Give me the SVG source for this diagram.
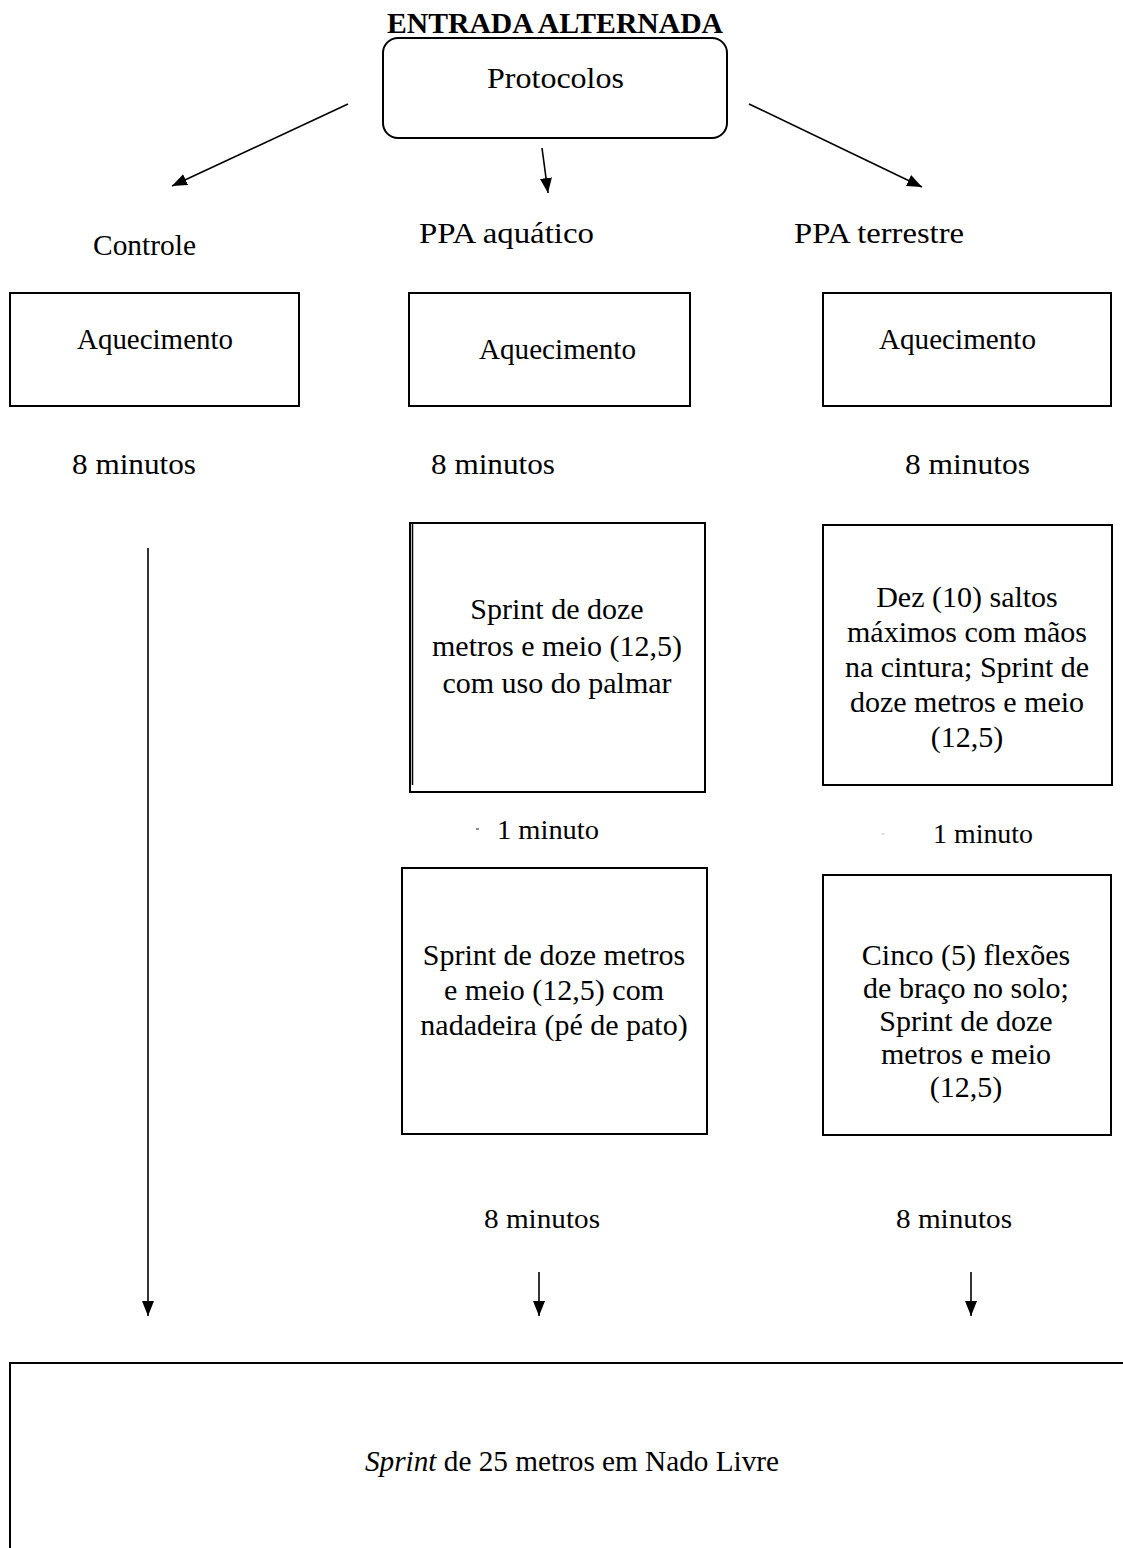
<svg xmlns="http://www.w3.org/2000/svg" width="1123" height="1548" viewBox="0 0 1123 1548">
<style>
text{font-family:"Liberation Serif","Times New Roman",serif;font-size:30px;fill:#000}
.t{font-weight:bold}
.box{fill:#fff;stroke:#000;stroke-width:2}
.ln{stroke:#000;stroke-width:1.6;fill:none}
.c{text-anchor:middle}
.s{font-size:28px}
</style>
<defs>
<marker id="ah" viewBox="0 0 15 12" refX="15" refY="6" markerWidth="15" markerHeight="12" markerUnits="userSpaceOnUse" orient="auto">
<path d="M0,0 L15,6 L0,12 z" fill="#000"/>
</marker>
</defs>
<rect width="1123" height="1548" fill="#fff"/>
<text class="t" x="387" y="33" textLength="336" lengthAdjust="spacingAndGlyphs">ENTRADA ALTERNADA</text>
<g id="protocolos">
<rect class="box" x="383" y="38" width="344" height="100" rx="15"/>
<text x="487" y="88" textLength="137" lengthAdjust="spacingAndGlyphs">Protocolos</text>
</g>
<g id="connectors">
<line class="ln" x1="348" y1="104" x2="172" y2="186" marker-end="url(#ah)"/>
<line class="ln" x1="542" y1="148" x2="548" y2="193" marker-end="url(#ah)"/>
<line class="ln" x1="749" y1="104" x2="922" y2="187" marker-end="url(#ah)"/>
<line class="ln" x1="148" y1="548" x2="148" y2="1316" marker-end="url(#ah)"/>
<line class="ln" x1="539" y1="1272" x2="539" y2="1316" marker-end="url(#ah)"/>
<line class="ln" x1="971" y1="1272" x2="971" y2="1316" marker-end="url(#ah)"/>
</g>
<g id="labels">
<text x="93" y="255" textLength="103" lengthAdjust="spacingAndGlyphs">Controle</text>
<text x="419" y="243" textLength="175" lengthAdjust="spacingAndGlyphs">PPA aquático</text>
<text x="794" y="243" textLength="170" lengthAdjust="spacingAndGlyphs">PPA terrestre</text>
<text x="72" y="474" textLength="124" lengthAdjust="spacingAndGlyphs">8 minutos</text>
<text x="431" y="474" textLength="124" lengthAdjust="spacingAndGlyphs">8 minutos</text>
<text x="905" y="474" textLength="125" lengthAdjust="spacingAndGlyphs">8 minutos</text>
<text class="s" x="497" y="839" textLength="102" lengthAdjust="spacingAndGlyphs">1 minuto</text>
<text class="s" x="933" y="843" textLength="100" lengthAdjust="spacingAndGlyphs">1 minuto</text>
<line x1="476" y1="829" x2="479" y2="829" stroke="#666" stroke-width="1.5"/>
<line x1="881" y1="834" x2="885" y2="834" stroke="#ccc" stroke-width="1"/>
<text class="s" x="484" y="1228" textLength="116" lengthAdjust="spacingAndGlyphs">8 minutos</text>
<text class="s" x="896" y="1228" textLength="116" lengthAdjust="spacingAndGlyphs">8 minutos</text>
</g>
<g id="aquec-controle">
<rect class="box" x="10" y="293" width="289" height="113"/>
<text x="77" y="349" textLength="156" lengthAdjust="spacingAndGlyphs">Aquecimento</text>
</g>
<g id="aquec-aquatico">
<rect class="box" x="409" y="293" width="281" height="113"/>
<text x="479" y="359" textLength="157" lengthAdjust="spacingAndGlyphs">Aquecimento</text>
</g>
<g id="aquec-terrestre">
<rect class="box" x="823" y="293" width="288" height="113"/>
<text x="879" y="349" textLength="157" lengthAdjust="spacingAndGlyphs">Aquecimento</text>
</g>
<g id="sprint-palmar">
<rect class="box" x="410" y="523" width="295" height="269"/>
<line x1="412.5" y1="523" x2="412.5" y2="785" stroke="#000" stroke-width="1.5"/>
<text class="c" x="557" y="619">Sprint de doze</text>
<text class="c" x="557" y="656">metros e meio (12,5)</text>
<text class="c" x="557" y="693">com uso do palmar</text>
</g>
<g id="saltos">
<rect class="box" x="823" y="525" width="289" height="260"/>
<text class="c" x="967" y="607">Dez (10) saltos</text>
<text class="c" x="967" y="642">máximos com mãos</text>
<text class="c" x="967" y="677">na cintura; Sprint de</text>
<text class="c" x="967" y="712">doze metros e meio</text>
<text class="c" x="967" y="747">(12,5)</text>
</g>
<g id="sprint-nadadeira">
<rect class="box" x="402" y="868" width="305" height="266"/>
<text class="c" x="554" y="965">Sprint de doze metros</text>
<text class="c" x="554" y="1000">e meio (12,5) com</text>
<text class="c" x="554" y="1035">nadadeira (pé de pato)</text>
</g>
<g id="flexoes">
<rect class="box" x="823" y="875" width="288" height="260"/>
<text class="c" x="966" y="965">Cinco (5) flexões</text>
<text class="c" x="966" y="998">de braço no solo;</text>
<text class="c" x="966" y="1031">Sprint de doze</text>
<text class="c" x="966" y="1064">metros e meio</text>
<text class="c" x="966" y="1097">(12,5)</text>
</g>
<g id="sprint-25">
<rect class="box" x="10" y="1363" width="1130" height="300"/>
<text x="365" y="1471" textLength="414" lengthAdjust="spacingAndGlyphs"><tspan font-style="italic">Sprint</tspan> de 25 metros em Nado Livre</text>
</g>
</svg>
